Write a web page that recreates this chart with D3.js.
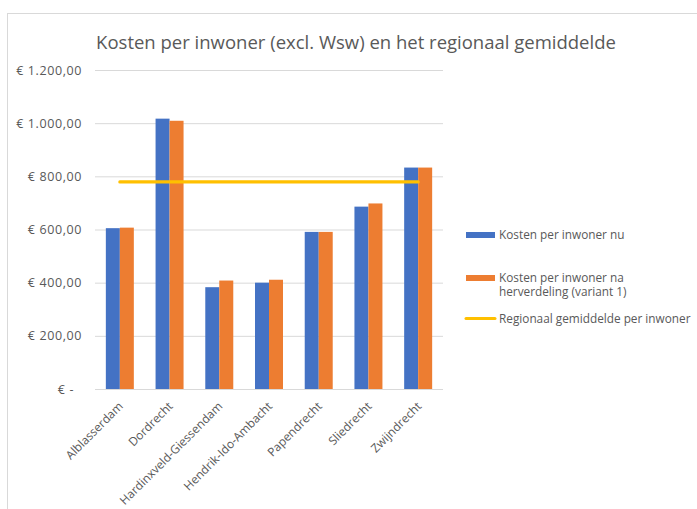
<!DOCTYPE html>
<html>
<head>
<meta charset="utf-8">
<script src="https://cdn.jsdelivr.net/npm/d3@7"></script>
<style>
  body { margin: 0; background: #fff; }
  svg { display: block; font-family: "Open Sans", "Noto Sans", sans-serif; }
  .grid line { stroke: #d9d9d9; stroke-width: 1; }
  .grid path { display: none; }
  .axis text { fill: #595959; font-size: 11.9px; font-family: "Open Sans", "Noto Sans", sans-serif; }
  .axis.yax text { font-size: 12.5px; letter-spacing: 0.6px; }
  .axis path, .axis line { display: none; }
  .legend text { fill: #595959; font-size: 11.8px; }
</style>
</head>
<body>
<svg id="chart" width="697" height="509"></svg>
<script>
// ── Data ──────────────────────────────────────────────────────────────────────
const gemeenten = ["Alblasserdam", "Dordrecht", "Hardinxveld-Giessendam",
  "Hendrik-Ido-Ambacht", "Papendrecht", "Sliedrecht", "Zwijndrecht"];
const kostenNu       = [605, 1017, 383, 400, 591, 686, 833];
const kostenNa       = [607, 1009, 408, 411, 591, 698, 833];
const regionaalGem   = 779;
const yTicks = [0, 200, 400, 600, 800, 1000, 1200];
const seriesNames = ["Kosten per inwoner nu",
  ["Kosten per inwoner na", "herverdeling (variant 1)"],
  "Regionaal gemiddelde per inwoner"];

const COLOR = { nu: "#4472C4", na: "#ED7D31", gem: "#FFC000" };

// ── Chart ─────────────────────────────────────────────────────────────────────
const svg = d3.select("#chart");

// outer chart border (partly cut off by the screenshot)
svg.append("rect")
  .attr("x", 7.5).attr("y", 13.5).attr("width", 720).attr("height", 520)
  .attr("fill", "none").attr("stroke", "#d9d9d9");

svg.append("text")
  .attr("x", 356).attr("y", 49)
  .attr("text-anchor", "middle")
  .attr("fill", "#595959")
  .style("font-size", "18.5px")
  .text("Kosten per inwoner (excl. Wsw) en het regionaal gemiddelde");

const margin = { left: 95, top: 70 };
const w = 348, h = 319;
const g = svg.append("g").attr("transform", `translate(${margin.left},${margin.top})`);

const x = d3.scaleBand().domain(gemeenten).range([0, w]).paddingInner(0.437).paddingOuter(0.218);
const x1 = d3.scaleBand().domain(["nu", "na"]).range([0, x.bandwidth()]);
const y = d3.scaleLinear().domain([0, 1200]).range([h, 0]);

const fmt = v => v === 0 ? "€ -" : "€ " + d3.format(",.2f")(v).replace(/,/g, "#").replace(".", ",").replace(/#/g, ".");

g.append("g").attr("class", "grid")
  .call(d3.axisLeft(y).tickValues(yTicks).tickSize(-w).tickFormat(""));

g.append("g").attr("class", "axis yax")
  .call(d3.axisLeft(y).tickValues(yTicks).tickFormat(fmt).tickSize(0).tickPadding(13))
  .selectAll("text")
  .attr("x", d => d === 0 ? -21 : -13);

// bars
const groups = g.selectAll(".grp").data(gemeenten).join("g")
  .attr("transform", d => `translate(${x(d)},0)`);
groups.append("rect")
  .attr("x", x1("nu")).attr("width", x1.bandwidth())
  .attr("y", (d, i) => y(kostenNu[i])).attr("height", (d, i) => h - y(kostenNu[i]))
  .attr("fill", COLOR.nu);
groups.append("rect")
  .attr("x", x1("na")).attr("width", x1.bandwidth())
  .attr("y", (d, i) => y(kostenNa[i])).attr("height", (d, i) => h - y(kostenNa[i]))
  .attr("fill", COLOR.na);

// regional average line
const cx = d => x(d) + x.bandwidth() / 2;
g.append("line")
  .attr("x1", cx(gemeenten[0])).attr("x2", cx(gemeenten[gemeenten.length - 1]))
  .attr("y1", y(regionaalGem)).attr("y2", y(regionaalGem))
  .attr("stroke", COLOR.gem).attr("stroke-width", 3.2).attr("stroke-linecap", "round");

// x labels
const xa = g.append("g").attr("class", "axis").attr("transform", `translate(0,${h})`)
  .call(d3.axisBottom(x).tickSize(0).tickPadding(0));
xa.selectAll("text")
  .attr("text-anchor", "end")
  .attr("y", 0).attr("dy", 0)
  .attr("transform", "translate(4,18) rotate(-45)");

// legend
const lg = svg.append("g").attr("class", "legend");
lg.append("rect").attr("x", 466).attr("y", 232).attr("width", 29).attr("height", 6).attr("fill", COLOR.nu);
lg.append("text").attr("x", 499).attr("y", 235).attr("dy", "0.35em").text(seriesNames[0]);
lg.append("rect").attr("x", 466).attr("y", 275).attr("width", 29).attr("height", 6).attr("fill", COLOR.na);
lg.append("text").attr("x", 499).attr("y", 277.5).attr("dy", "0.35em").text(seriesNames[1][0]);
lg.append("text").attr("x", 499).attr("y", 292).attr("dy", "0.35em").text(seriesNames[1][1]);
lg.append("line").attr("x1", 466).attr("x2", 495).attr("y1", 318.5).attr("y2", 318.5)
  .attr("stroke", COLOR.gem).attr("stroke-width", 3).attr("stroke-linecap", "round");
lg.append("text").attr("x", 499).attr("y", 319).attr("dy", "0.35em").text(seriesNames[2]);
</script>
</body>
</html>
